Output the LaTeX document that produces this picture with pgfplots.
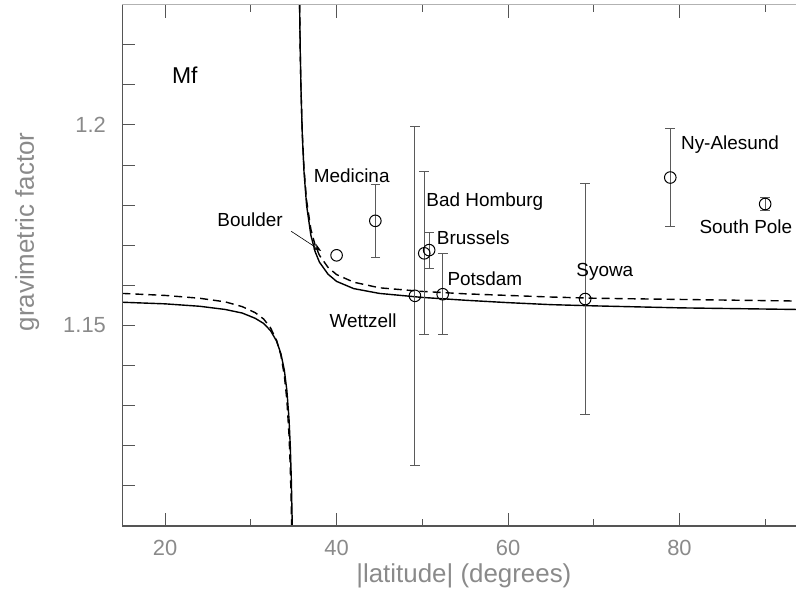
\documentclass[border=0pt]{standalone}
\usepackage{fontspec}
\setmainfont{Liberation Sans}
\usepackage{pgfplots}
\pgfplotsset{compat=1.18}
\usetikzlibrary{calc,arrows.meta}
\definecolor{framegray}{HTML}{555555}
\definecolor{labgray}{HTML}{8A8A8A}
\definecolor{bargray}{HTML}{5A5A5A}

\pgfplotstableread{
x      y       e
44.52  1.1761  0.0091
49.14  1.1574  0.0423
50.23  1.1680  0.0203
50.80  1.1688  0.0045
52.38  1.1578  0.0101
69.00  1.1566  0.0288
78.93  1.1869  0.0122
90.00  1.1803  0.0017
}\stations

\begin{document}
\begin{tikzpicture}
\begin{axis}[
    scale only axis,
    width=336.85bp,
    height=260.65bp,
    xmin=15, xmax=93.6,
    ymin=1.10, ymax=1.23,
    axis line style={draw=none},
    xtick={20,40,60,80},
    minor xtick={30,50,70,90},
    ytick={1.11,1.12,1.13,1.14,1.15,1.16,1.17,1.18,1.19,1.2,1.21,1.22},
    yticklabels={,,,,1.15,,,,,1.2,,},
    ytick pos=left,
    tick align=inside,
    major tick length=6.5bp,
    minor tick length=3.5bp,
    tick style={framegray, line width=0.5bp},
    /pgf/number format/assume math mode=true,
    ticklabel style={font=\fontsize{11}{13}\selectfont, text=labgray},
    xticklabel style={anchor=center, yshift=-11bp},
    yticklabel style={anchor=east, inner sep=0pt, xshift=-8bp},
    xlabel={|latitude| (degrees)},
    ylabel={gravimetric factor},
    label style={font=\fontsize{13}{15}\selectfont, text=labgray},
    xlabel style={at={(rel axis cs:0.507,0)}, anchor=center, yshift=-25bp},
    ylabel style={at={(rel axis cs:0,0.564)}, anchor=center, yshift=47.6bp},
]
% solid curve, left branch
\addplot[black, line width=0.7bp] coordinates {
 (15,1.1558) (20,1.1554) (24,1.1548) (27,1.1540) (29,1.1531) (30.5,1.1518)
 (31.5,1.1505) (32.3,1.1487) (33.0,1.1461) (33.5,1.1430) (33.9,1.1389)
 (34.2,1.1338) (34.45,1.1267) (34.6,1.1198) (34.72,1.1115) (34.83,1.1000)
};
% solid curve, right branch
\addplot[black, line width=0.7bp] coordinates {
 (35.69,1.2300) (35.75,1.2197) (35.85,1.2086) (36.0,1.1975) (36.2,1.1883)
 (36.5,1.1800) (37.0,1.1725) (37.5,1.1684) (38.0,1.1658) (39,1.1628)
 (40,1.1610) (42,1.1592) (45,1.1580) (50,1.1570) (55,1.1563) (60,1.1557)
 (65,1.1552) (70,1.1549) (80,1.1544) (93.6,1.1540)
};
% dashed curve, left branch
\addplot[black, line width=0.7bp, dash pattern=on 4bp off 2.5bp] coordinates {
 (15,1.1580) (20,1.1575) (24,1.1568) (27,1.1559) (29,1.1547) (30.5,1.1532)
 (31.5,1.1516) (32.3,1.1494) (33.0,1.1463) (33.5,1.1426) (33.9,1.1376)
 (34.2,1.1314) (34.45,1.1227) (34.6,1.1144) (34.7,1.1063) (34.76,1.1000)
};
% dashed curve, right branch
\addplot[black, line width=0.7bp, dash pattern=on 4bp off 2.5bp] coordinates {
 (35.68,1.2300) (35.75,1.2195) (35.85,1.2087) (36.0,1.1981) (36.2,1.1892)
 (36.5,1.1812) (37.0,1.1740) (37.5,1.1700) (38.0,1.1675) (39,1.1645)
 (40,1.1627) (42,1.1608) (45,1.1594) (50,1.1585) (55,1.1579) (60,1.1575)
 (65,1.1571) (70,1.1568) (80,1.1565) (93.6,1.1561)
};
% stations with error bars
\addplot[only marks, mark=o, mark size=2.9bp, mark options={black, line width=0.5bp},
  error bars/.cd, y dir=both, y explicit,
  error bar style={bargray, line width=0.5bp},
  error mark options={rotate=90, mark size=2.4bp, bargray, line width=0.5bp}]
  table[x=x, y=y, y error=e] {\stations};
% Boulder (no error bar)
\addplot[only marks, mark=o, mark size=2.9bp, mark options={black, line width=0.5bp}]
  coordinates {(40.00,1.1675)};

\begin{scope}[every node/.style={font=\fontsize{9.5}{11}\selectfont, text=black}]
\node at (axis cs:22.3,1.2125) {\fontsize{11.5}{13}\selectfont Mf};
\node at (axis cs:41.76,1.1873) {Medicina};
\node at (axis cs:29.9,1.1763) {Boulder};
\node at (axis cs:57.3,1.1809) {Bad Homburg};
\node at (axis cs:55.94,1.1720) {Brussels};
\node at (axis cs:57.3,1.1617) {Potsdam};
\node at (axis cs:43.1,1.1513) {Wettzell};
\node at (axis cs:71.3,1.1633) {Syowa};
\node at (axis cs:85.9,1.1952) {Ny-Alesund};
\node at (axis cs:87.75,1.1746) {South Pole};
\end{scope}
\draw[black, line width=0.3bp, -{Stealth[length=4bp,width=3bp]}]
  (axis cs:34.7,1.1735) -- (axis cs:38.2,1.1686);

\coordinate (ll) at (rel axis cs:0,0);
\coordinate (ur) at (rel axis cs:1,1);
\end{axis}
\draw[framegray, line width=0.6bp] (ur |- ll) -- (ll) -- (ll |- ur);
\draw[gray!60, line width=0.6bp] (ll |- ur) -- (ur);
\pgfresetboundingbox
\path ($(ll)+(-61.15bp,-39.5bp)$) rectangle ($(ur)+(0,2.35bp)$);
\end{tikzpicture}
\end{document}
